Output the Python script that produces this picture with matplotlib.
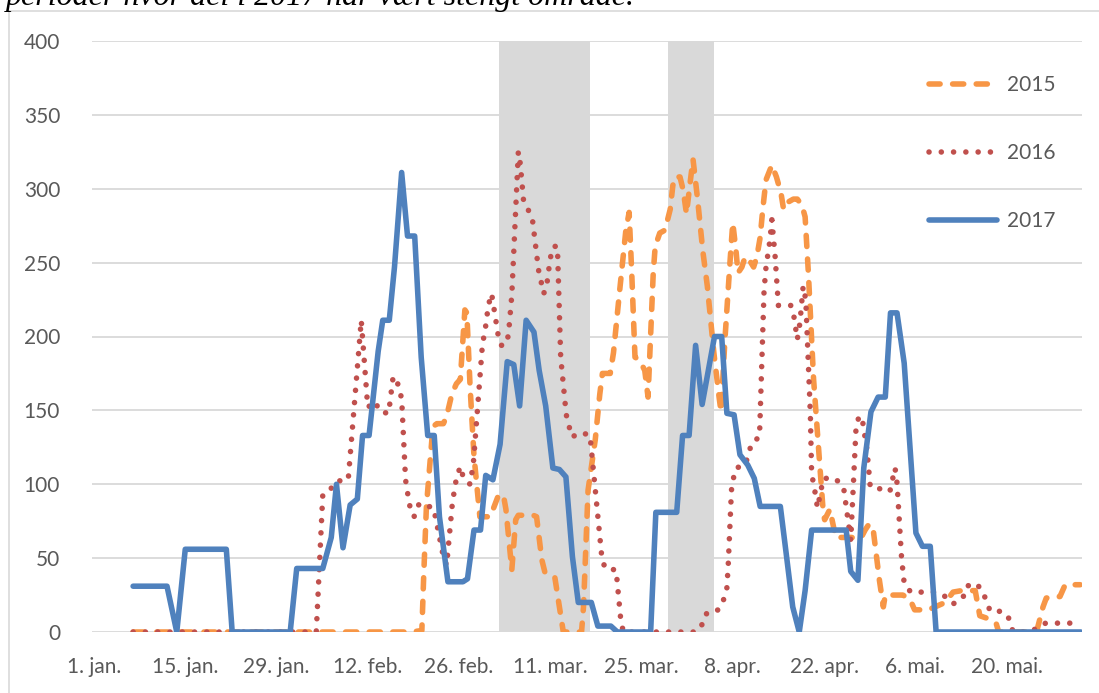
import matplotlib
matplotlib.use("Agg")
import matplotlib.pyplot as plt
from matplotlib.lines import Line2D

# x = days after 1 January
tick_days = [0, 14, 28, 42, 56, 70, 84, 98, 112, 126, 140]
tick_labels = ["1. jan.", "15. jan.", "29. jan.", "12. feb.", "26. feb.", "11. mar.",
               "25. mar.", "8. apr.", "22. apr.", "6. mai.", "20. mai."]
y_ticks = [0, 50, 100, 150, 200, 250, 300, 350, 400]

# closed periods in 2017 (start day, end day)
closed_2017 = [(62.1, 76.1), (88.1, 95.1)]

days_2015 = [6.0, 48.7, 50.3, 50.6, 51.0, 52.0, 52.6, 53.6, 54.1, 54.9, 55.6, 56.2, 56.9, 57.2,
             57.7, 58.3, 59.2, 60.8, 61.4, 62.0, 62.8, 63.2, 64.1, 64.7, 65.1, 67.4, 67.9, 68.7,
             69.2, 70.7, 72.0, 74.8, 75.1, 75.8, 76.9, 77.6, 78.0, 79.2, 79.7, 80.6, 81.6, 82.1,
             82.5, 83.0, 83.7, 84.5, 85.0, 85.8, 86.1, 86.8, 87.6, 88.4, 88.8, 89.1, 89.9, 90.4,
             90.9, 91.4, 91.9, 92.6, 93.4, 94.1, 95.1, 95.9, 96.2, 96.8, 97.6, 98.0, 98.5, 98.8,
             99.4, 99.9, 100.5, 101.2, 101.7, 102.2, 102.6, 103.1, 104.0, 104.7, 105.4, 105.8,
             106.5, 107.3, 107.9, 108.6, 109.1, 109.6, 110.4, 111.3, 111.9, 112.1, 112.9, 113.8,
             116.2, 117.6, 118.3, 118.9, 119.5, 120.5, 121.1, 121.4, 124.1, 125.2, 125.9, 128.0,
             130.6, 131.8, 133.1, 135.2, 135.9, 137.2, 138.4, 138.8, 144.6, 145.6, 146.1, 148.2,
             149.0, 151.3]
vals_2015 = [0, 0, 1, 40, 85, 139, 141, 141, 146, 161, 168, 171, 218, 216,
             166, 119, 78, 78, 85, 92, 93, 83, 42, 76, 79, 79, 78, 49,
             40, 37, 0, 0, 17, 96, 130, 161, 175, 175, 189, 229, 272, 284,
             243, 186, 184, 177, 159, 243, 261, 270, 272, 286, 302, 308, 308, 299,
             283, 302, 320, 293, 258, 234, 189, 159, 149, 198, 252, 277, 258, 243,
             247, 254, 252, 247, 254, 267, 286, 306, 316, 308, 297, 286,
             291, 293, 293, 289, 281, 243, 171, 116, 80, 76, 83, 64,
             64, 63, 69, 73, 71, 35, 17, 25, 25, 22, 15, 15,
             20, 27, 28, 28, 11, 9, 6, 0, 0, 17, 23, 24,
             32, 32]

days_2016 = [6.0, 34.1, 35.1, 36.2, 37.1, 39.0, 41.0, 42.0, 43.1, 43.9, 45.2, 45.9, 46.6, 47.2,
             47.8, 48.4, 49.1, 49.9, 52.1, 53.6, 54.1, 55.0, 55.6, 56.2, 56.7, 57.7, 58.2, 59.6,
             60.0, 60.5, 61.0, 61.4, 62.0, 62.5, 63.3, 63.6, 64.1, 65.1, 65.4, 65.9, 66.6, 67.3,
             68.2, 69.0, 69.5, 70.0, 70.5, 71.1, 71.6, 72.3, 72.5, 73.3, 74.8, 76.1, 77.0, 77.9,
             78.4, 80.1, 80.8, 81.2, 92.4, 93.8, 94.0, 95.8, 96.6, 97.1, 97.3, 97.8, 98.1, 98.5,
             99.9, 100.4, 100.9, 102.1, 102.8, 103.1, 103.7, 104.0, 104.5, 105.0, 106.9, 107.4,
             107.9, 108.3, 108.8, 109.2, 109.9, 110.1, 110.5, 111.0, 111.9, 113.7, 115.0, 116.1,
             116.9, 117.3, 117.8, 118.6, 119.1, 120.5, 122.1, 122.9, 123.2, 123.9, 124.3, 125.3,
             129.2, 130.6, 131.8, 133.3, 133.9, 135.3, 136.3, 137.5, 139.4, 140.4, 141.0, 143.6,
             146.0, 150.0, 151.3]
vals_2016 = [0, 0, 93, 96, 102, 103, 211, 152, 156, 149, 148, 173, 168, 158,
             103, 86, 78, 87, 84, 51, 45, 88, 104, 112, 104, 100, 114, 195,
             204, 221, 229, 218, 201, 194, 195, 202, 228, 325, 317, 292, 286, 278,
             245, 229, 236, 253, 261, 261, 186, 154, 146, 132, 135, 133, 92, 51,
             43, 42, 9, 0, 0, 8, 13, 15, 22, 30, 45, 96, 104, 111,
             113, 120, 128, 132, 231, 247, 265, 279, 254, 221, 221, 213,
             198, 209, 234, 225, 148, 107, 98, 84, 104, 104, 98, 62,
             137, 145, 146, 123, 98, 97, 95, 111, 101, 50, 33, 27,
             27, 24, 19, 23, 31, 33, 28, 14, 14, 9, 0, 0,
             6, 6, 5]

days_2017 = [6.0, 11.2, 12.7, 14.0, 20.3, 21.2, 30.1, 31.1, 35.1, 36.4, 37.2, 38.2, 39.3, 40.4,
             41.2, 42.2, 43.6, 44.3, 45.3, 46.1, 47.2, 48.1, 49.2, 50.2, 51.2, 52.2, 53.0, 54.3,
             56.6, 57.3, 58.3, 59.3, 60.1, 61.2, 62.3, 63.4, 64.4, 65.3, 66.3, 67.5, 68.3, 69.3,
             70.4, 71.4, 72.4, 73.4, 74.3, 76.3, 77.3, 79.3, 80.3, 85.4, 86.2, 89.4, 90.3, 91.3,
             92.3, 93.3, 95.2, 96.3, 97.1, 98.2, 99.1, 100.3, 101.3, 102.2, 105.3, 106.2, 107.2,
             108.2, 109.1, 110.1, 115.4, 116.1, 117.2, 118.1, 119.2, 120.3, 121.4, 122.2, 123.2,
             124.3, 126.1, 127.1, 128.3, 129.2, 151.4]
vals_2017 = [31, 31, 0, 56, 56, 0, 0, 43, 43, 64, 100, 57, 86, 90,
             133, 133, 190, 211, 211, 247, 311, 268, 268, 186, 133, 133, 78, 34,
             34, 36, 69, 69, 106, 103, 127, 183, 181, 153, 211, 203, 177, 153,
             111, 110, 105, 51, 20, 20, 4, 4, 0, 0, 81, 81, 133, 133,
             194, 154, 200, 200, 148, 147, 120, 113, 104, 85, 85, 53, 17,
             0, 28, 69, 69, 41, 35, 111, 149, 159, 159, 216, 216,
             182, 67, 58, 58, 0, 0]

series_names = ["2015", "2016", "2017"]

W, H = 1099, 693
fig = plt.figure(figsize=(W / 100, H / 100), dpi=100)
ax = fig.add_axes([92 / W, (H - 632) / H, (1082 - 92) / W, (632 - 41) / H])

label_font = dict(family=["Lato", "DejaVu Sans"], size=15, color="#595959")

ax.set_xlim((92 - 94) / 6.518, (1082 - 94) / 6.518)
ax.set_ylim(0, 400)
for s in ax.spines.values():
    s.set_visible(False)
ax.set_yticks(y_ticks)
ax.set_yticklabels([str(v) for v in y_ticks], **label_font)
ax.set_xticks(tick_days)
ax.set_xticklabels(tick_labels, **label_font)
ax.tick_params(axis="y", length=0, pad=23)
ax.tick_params(axis="x", length=0, pad=18)
ax.yaxis.grid(True, color="#D9D9D9", lw=1.3, zorder=0)
ax.set_axisbelow(True)

for a, b in closed_2017:
    ax.axvspan(a, b, color="#D9D9D9", lw=0, zorder=1)

lw = 4.0
l1, = ax.plot(days_2015, vals_2015, color="#F79646", lw=lw, linestyle=(0, (2.0, 2.25)),
              dash_capstyle="round", solid_joinstyle="round", zorder=3, label=series_names[0])
l2, = ax.plot(days_2016, vals_2016, color="#C0504D", lw=lw, linestyle=(0, (0.01, 2.2)),
              dash_capstyle="round", zorder=4, label=series_names[1])
l3, = ax.plot(days_2017, vals_2017, color="#4F81BD", lw=lw, solid_capstyle="round",
              solid_joinstyle="round", zorder=5, label=series_names[2])

leg = ax.legend(handles=[l1, l2, l3], loc="upper left",
                bbox_to_anchor=(929 / W, 1 - 75 / H), bbox_transform=fig.transFigure,
                frameon=False, borderpad=0, borderaxespad=0, handlelength=3.25,
                handletextpad=0.5, labelspacing=2.3,
                prop=dict(family=["Lato", "DejaVu Sans"], size=15))
for t in leg.get_texts():
    t.set_color("#595959")

# chart border (partly visible)
fig.add_artist(Line2D([9 / W, 9 / W], [0, 1 - 11 / H], transform=fig.transFigure,
                      color="#D9D9D9", lw=1.2))
fig.add_artist(Line2D([9 / W, 1], [1 - 11 / H, 1 - 11 / H], transform=fig.transFigure,
                      color="#D9D9D9", lw=1.2))

# clipped caption line from the document above the chart
fig.text(6 / W, 1 - 5 / H, "perioder hvor del i 2017 har vært stengt område.",
         family=["Liberation Serif"], style="italic", size=23, va="baseline", ha="left",
         color="black")

fig.savefig("out.png", dpi=100)
